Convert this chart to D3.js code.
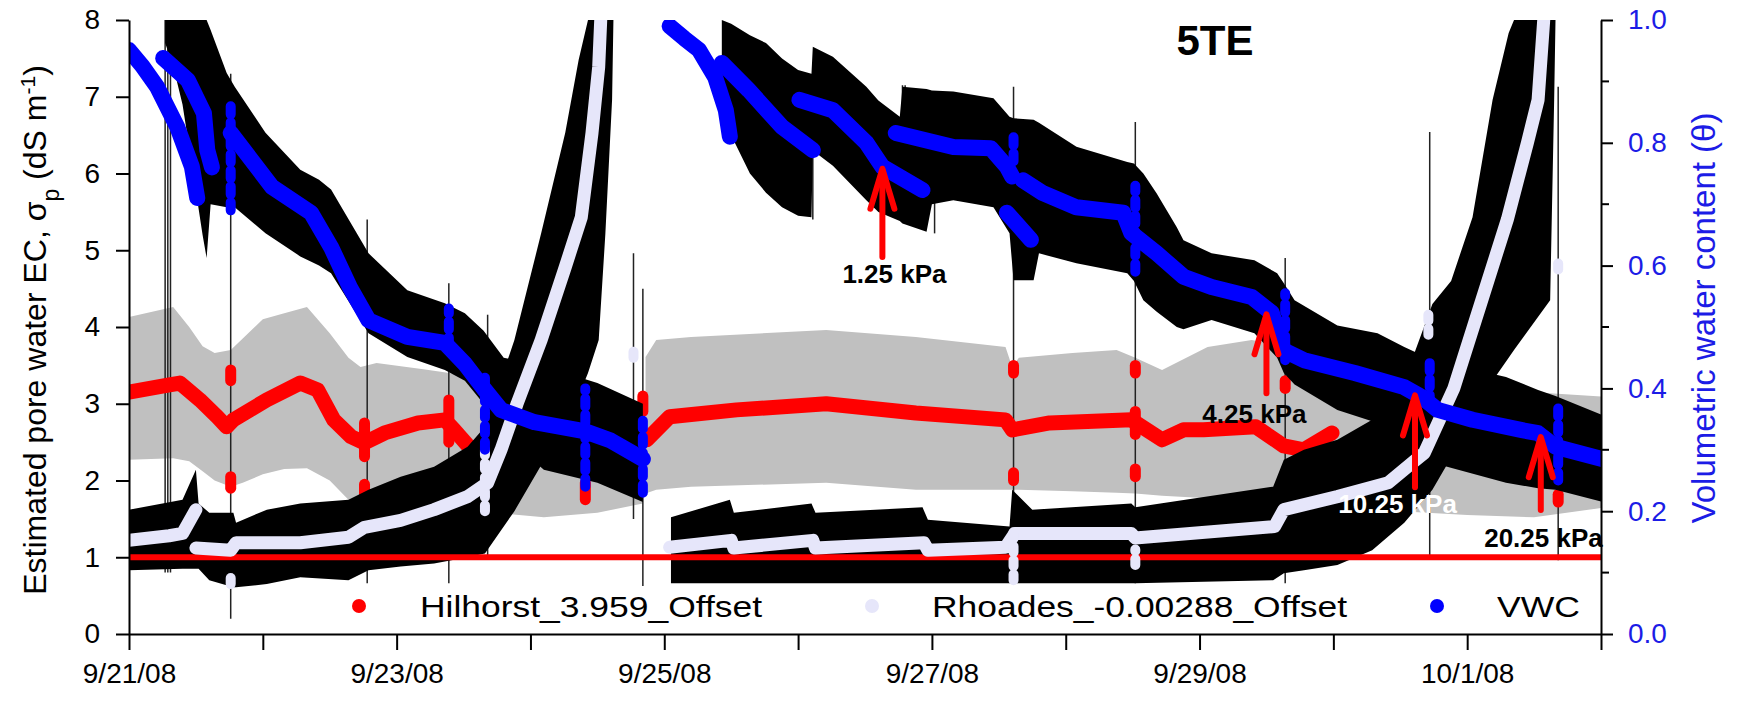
<!DOCTYPE html>
<html>
<head>
<meta charset="utf-8">
<script src="https://cdn.jsdelivr.net/npm/d3@7"></script>
<style>
  body { margin: 0; background: #fff; }
  text { font-family: "Liberation Sans", Arial, sans-serif; }
</style>
</head>
<body>
<div id="chart"></div>
<script>
// ---- data (day offset from 9/21/08 00:00) ----

// gray envelope around Hilhorst: [day, low, high] (dS/m)
const graySeg1 = [[0,2.27,4.13],[0.33,2.29,4.26],[0.45,2.25,4.0],[0.55,2.12,3.75],[0.64,2.0,3.66],[0.76,1.92,3.7],
  [0.85,1.97,3.85],[1.0,2.08,4.1],[1.16,2.15,4.18],[1.33,2.16,4.26],[1.5,2.0,3.92],[1.64,1.75,3.6],[1.73,1.72,3.48],
  [1.85,1.7,3.53],[2.2,1.65,3.45],[2.6,1.6,3.35],[3.1,1.52,3.0],[3.5,1.58,2.6],[3.84,1.7,2.4]];
const graySeg2 = [[3.86,1.83,3.61],[3.94,1.88,3.83],[4.2,1.92,3.87],[5.21,1.97,3.96],[5.88,1.88,3.87],[6.55,1.88,3.74],
  [6.6,1.88,3.48],[6.65,1.88,3.6],[7.05,1.86,3.66],[7.38,1.84,3.7],[7.52,1.83,3.6],[7.72,1.8,3.44],[8.06,1.77,3.74],
  [8.39,1.75,3.83],[8.8,1.7,3.7],[9.5,1.6,3.5],[10.0,1.55,3.3],[10.5,1.52,3.15],[11.04,1.65,3.09]];

// black envelope following VWC: [day, low, high]
const upperBand1 = [[0.27,7.7,8],[0.33,7.4,8],[0.4,6.9,8],[0.48,6.0,8],[0.55,5.2,8],[0.58,4.9,8],[0.61,5.6,7.87],[0.73,5.56,7.31],
  [0.79,5.56,7.13],[1.02,5.22,6.53],[1.28,4.92,6.05],[1.42,4.8,5.92],[1.51,4.7,5.79],[1.79,3.92,4.96],[2.08,3.61,4.48],
  [2.36,3.44,4.31],[2.51,3.3,4.18],[2.65,3.0,3.95],[2.8,2.6,3.6],[3.1,2.14,3.49],[3.5,1.97,3.27],[3.84,1.72,3.0]];
const upperBand2 = [[4.43,6.9,8],[4.5,6.5,7.95],[4.64,6.0,7.8],[4.76,5.75,7.7],[4.88,5.56,7.5],[5.0,5.45,7.35],[5.1,5.43,7.3],
  [5.11,6.3,7.65],[5.26,6.1,7.52],[5.51,5.65,7.13],[5.6,5.5,6.95],[5.76,5.38,6.74],[5.78,5.35,7.13],[5.96,5.24,7.1],
  [6.0,5.6,7.08],[6.16,5.65,7.07],[6.46,5.56,6.98],[6.58,5.22,6.74],[6.61,4.61,6.72],[6.76,4.61,6.7],[6.8,4.96,6.66],
  [7.08,4.83,6.35],[7.46,4.7,6.15],[7.51,4.6,6.13],[7.58,4.35,6.0],[7.68,4.2,5.74],[7.83,4.0,5.3],[7.88,3.97,5.13],
  [8.09,4.09,4.96],[8.41,3.92,4.87],[8.58,3.6,4.7],[8.63,3.4,4.57],[8.71,3.25,4.35],[9.03,2.92,4.02],[9.33,2.75,3.92],
  [9.53,2.57,3.74],[9.74,2.23,3.57],[10.29,1.97,3.35],[10.53,1.9,3.18],[10.66,1.88,3.1],[11.04,1.71,2.83]];

// black envelope following Rhoades: [day, low, high]
const lowerBand1 = [[0,0.83,1.62],[0.4,0.85,1.75],[0.5,0.85,2.14],[0.52,0.85,1.7],[0.6,0.7,1.58],[0.78,0.61,1.58],
  [0.8,0.61,1.45],[1.03,0.65,1.62],[1.28,0.74,1.7],[1.64,0.7,1.75],[1.79,0.83,1.88],[2.03,0.88,2.05],[2.28,0.92,2.18],
  [2.53,1.0,2.44],[2.66,1.05,2.7],[2.88,1.6,3.83],[3.08,2.2,5.22],[3.26,2.7,6.53],[3.36,3.1,7.48],[3.43,3.4,8],
  [3.51,3.83,8],[3.56,5.22,8],[3.61,6.96,8],[3.62,8,8]];
const lowerBand2 = [[4.05,0.66,1.52],[4.49,0.66,1.75],[4.52,0.66,1.58],[5.1,0.66,1.7],[5.13,0.66,1.58],[5.93,0.66,1.65],
  [5.97,0.66,1.49],[6.58,0.66,1.4],[6.6,0.66,1.88],[6.75,0.66,1.62],[7.49,0.66,1.7],[7.52,0.66,1.65],[8.55,0.7,1.92],
  [8.63,0.79,2.27],[8.78,0.83,2.4],[9.03,0.9,2.53],[9.29,1.09,2.79],[9.53,1.45,3.3],[9.74,1.88,4.3],[9.88,2.3,4.6],
  [10.04,2.8,5.43],[10.19,3.3,6.96],[10.31,3.6,7.83],[10.35,3.7,8],[10.62,4.35,8],[10.65,6.96,8],[10.66,8,8]];

// Hilhorst_3.959_Offset (dS/m)
const hilhorst1 = [[0,3.15],[0.28,3.24],[0.38,3.27],[0.53,3.05],[0.66,2.83],[0.73,2.7],[0.78,2.79],[1.03,3.05],
  [1.28,3.27],[1.41,3.18],[1.53,2.79],[1.66,2.57],[1.76,2.49],[1.91,2.62],[2.16,2.75],[2.36,2.79],[2.43,2.66],[2.56,2.4]];
const hilhorst2 = [[3.87,2.53],[4.04,2.83],[4.54,2.92],[5.21,3.0],[5.88,2.88],[6.55,2.79],[6.6,2.66],[6.88,2.75],
  [7.49,2.79],[7.72,2.53],[7.88,2.66],[8.03,2.66],[8.42,2.7],[8.63,2.45],[8.78,2.4],[8.99,2.62]];
const hilhorst3 = [[10.97,2.68],[11.04,2.66]];

// Rhoades_-0.00288_Offset (dS/m)
const rhoades1a = [[0,1.22],[0.3,1.28],[0.4,1.31],[0.5,1.62]];
const rhoades1b = [[0.5,1.12],[0.76,1.09],[0.8,1.19],[1.28,1.19],[1.64,1.26],[1.76,1.39],[2.03,1.48],[2.28,1.62],
  [2.53,1.79],[2.68,1.97],[2.78,2.4],[2.9,3.0],[3.08,3.83],[3.26,4.78],[3.38,5.43],[3.46,6.53],[3.51,7.39],[3.53,8.2]];
const rhoades2 = [[4.04,1.13],[4.5,1.22],[4.52,1.12],[5.11,1.22],[5.13,1.12],[5.94,1.19],[5.97,1.09],[6.55,1.13],
  [6.62,1.31],[7.49,1.31],[7.52,1.25],[8.56,1.4],[8.63,1.62],[9.03,1.79],[9.41,1.97],[9.59,2.23],[9.68,2.36],
  [9.9,3.2],[10.1,4.3],[10.3,5.4],[10.45,6.4],[10.53,6.96],[10.58,8.2]];

// VWC (theta, right axis)
const vwcSegs = [
  [[0,0.951],[0.1,0.925],[0.21,0.891],[0.36,0.826],[0.47,0.761],[0.51,0.71]],
  [[0.255,0.938],[0.44,0.902],[0.56,0.848],[0.585,0.788],[0.62,0.76]],
  [[0.76,0.816],[1.07,0.728],[1.36,0.686],[1.51,0.63],[1.65,0.565],[1.79,0.511],[2.08,0.484],[2.36,0.474],
   [2.51,0.44],[2.65,0.4],[2.78,0.365],[3.03,0.345],[3.41,0.33],[3.6,0.315],[3.84,0.285]],
  [[4.04,0.99],[4.15,0.97],[4.26,0.951],[4.38,0.907],[4.46,0.853],[4.49,0.81]],
  [[4.43,0.93],[4.63,0.886],[4.88,0.826],[5.11,0.788]],
  [[5.01,0.87],[5.26,0.853],[5.51,0.8],[5.63,0.761],[5.93,0.723]],
  [[5.73,0.816],[6.16,0.793],[6.44,0.791],[6.56,0.761],[6.6,0.745]],
  [[6.56,0.686],[6.74,0.642]],
  [[6.68,0.739],[6.83,0.718],[7.08,0.695],[7.43,0.686],[7.49,0.653],[7.68,0.62],[7.88,0.582],[8.09,0.565],
   [8.39,0.549],[8.54,0.523],[8.63,0.462],[8.78,0.446],[9.16,0.425],[9.53,0.402],[9.66,0.386],[9.78,0.365],
   [10.04,0.349],[10.41,0.332],[10.53,0.327],[10.66,0.305],[11.04,0.283]]
];

// dotted stacks at logging gaps: [day, low, high]
const redStacks = [[0.76,3.3,3.44],[0.76,1.9,2.05],[1.76,2.31,2.75],[1.76,1.8,1.95],[2.39,2.5,3.05],[3.41,1.75,1.97],
  [3.84,2.9,3.1],[6.61,3.4,3.5],[6.61,2.0,2.1],[7.52,3.4,3.5],[7.52,2.6,2.9],[7.52,2.05,2.15],[8.64,3.2,3.3],[10.68,1.72,1.82]];
const lavStacks = [[0.76,0.65,0.78],[2.66,1.6,2.4],[3.77,3.6,3.75],[6.61,0.7,1.36],[7.52,0.9,1.1],[9.71,3.9,4.2],[10.68,4.75,4.9]];
const blueStacks = [[0.76,0.69,0.86],[2.39,0.47,0.53],[2.66,0.3,0.43],[3.41,0.24,0.4],[3.84,0.23,0.35],
  [6.61,0.77,0.82],[7.52,0.59,0.73],[8.64,0.446,0.555],[9.72,0.376,0.446],[10.68,0.25,0.37]];

// thin vertical spikes: [day, low, high] (dS/m)
const spikes = [[0.27,0.8,8],[0.29,0.8,8],[0.31,0.8,8],[0.76,0.2,7.3],[1.78,0.66,5.4],[2.39,0.66,4.57],[2.68,0.97,4.16],
  [3.77,1.5,4.96],[3.84,0.25,4.5],[5.11,5.4,6.3],[5.78,6.6,7.15],[5.8,6.6,7.15],[6.02,5.22,5.83],[6.61,0.66,7.13],
  [7.52,0.66,6.67],[8.64,0.66,4.9],[9.72,1.0,6.54],[10.68,0.96,7.13]];

// suction annotations (theta units)
const arrowDays = [5.63, 8.5, 9.61, 10.55];
const arrowTip = [0.761, 0.524, 0.392, 0.324];
const arrowTail = [0.614, 0.392, 0.239, 0.202];
const arrowLabels = ["1.25 kPa", "4.25 kPa", "10.25 kPa", "20.25 kPa"];
const labelDays = [5.72, 8.41, 9.48, 10.57];
const labelTheta = [0.572, 0.344, 0.197, 0.142];
const labelColors = ["#000", "#000", "#fff", "#000"];

const ecTicks = [0, 1, 2, 3, 4, 5, 6, 7, 8];
const vwcTicks = [0, 0.2, 0.4, 0.6, 0.8, 1.0];
const refLineEC = 1.0;

const legendNames = ["Hilhorst_3.959_Offset", "Rhoades_-0.00288_Offset", "VWC"];
const legendColors = ["#ff0000", "#e6e6fa", "#0000ff"];

// ---- setup ----
const width = 1742, height = 702;
const L = 129, R = 1601, T = 20, B = 634;

const start = new Date(2008, 8, 21);
const day = d => new Date(start.getTime() + d * 864e5);

const x = d3.scaleTime().domain([start, new Date(2008, 9, 2)]).range([L, R]);
const yEC = d3.scaleLinear().domain([0, 8]).range([B, T]);
const yVWC = d3.scaleLinear().domain([0, 1]).range([B, T]);

const svg = d3.select("#chart").append("svg")
    .attr("width", width)
    .attr("height", height);

svg.append("defs").append("clipPath").attr("id", "plot")
  .append("rect").attr("x", L).attr("y", T).attr("width", R - L).attr("height", B - T);

const g = svg.append("g").attr("clip-path", "url(#plot)");

const band = d3.area()
    .x(p => x(day(p[0])))
    .y0(p => yEC(p[1]))
    .y1(p => yEC(p[2]));
const ecLine = d3.line().x(p => x(day(p[0]))).y(p => yEC(p[1]));
const vwcLine = d3.line().x(p => x(day(p[0]))).y(p => yVWC(p[1]));

// gray envelope
[graySeg1, graySeg2].forEach(s => {
  g.append("path").attr("d", band(s)).attr("fill", "#c0c0c0");
});

// thin spikes
g.selectAll(".spike").data(spikes).enter().append("line")
    .attr("x1", d => x(day(d[0]))).attr("x2", d => x(day(d[0])))
    .attr("y1", d => yEC(d[1])).attr("y2", d => yEC(d[2]))
    .attr("stroke", "#222").attr("stroke-width", 1.5);

// Hilhorst (red)
[hilhorst1, hilhorst2, hilhorst3].forEach(s => {
  g.append("path").attr("d", ecLine(s))
    .attr("fill", "none").attr("stroke", "#ff0000").attr("stroke-width", 15)
    .attr("stroke-linecap", "round").attr("stroke-linejoin", "round");
});
g.selectAll(".rstack").data(redStacks).enter().append("line")
    .attr("x1", d => x(day(d[0]))).attr("x2", d => x(day(d[0])))
    .attr("y1", d => yEC(d[1])).attr("y2", d => yEC(d[2]))
    .attr("stroke", "#ff0000").attr("stroke-width", 11).attr("stroke-linecap", "round");

// black envelopes
[upperBand1, upperBand2, lowerBand1, lowerBand2].forEach(s => {
  g.append("path").attr("d", band(s)).attr("fill", "#000");
});

// reference line at 1 dS/m
g.append("line")
    .attr("x1", L).attr("x2", R)
    .attr("y1", yEC(refLineEC)).attr("y2", yEC(refLineEC))
    .attr("stroke", "#ff0000").attr("stroke-width", 6);

// Rhoades (lavender)
[rhoades1a, rhoades1b, rhoades2].forEach(s => {
  g.append("path").attr("d", ecLine(s))
    .attr("fill", "none").attr("stroke", "#e6e6fa").attr("stroke-width", 13)
    .attr("stroke-linecap", "round").attr("stroke-linejoin", "round");
});
g.selectAll(".lstack").data(lavStacks).enter().append("line")
    .attr("x1", d => x(day(d[0]))).attr("x2", d => x(day(d[0])))
    .attr("y1", d => yEC(d[1])).attr("y2", d => yEC(d[2]))
    .attr("stroke", "#e6e6fa").attr("stroke-width", 10).attr("stroke-linecap", "round")
    .attr("stroke-dasharray", "6 8");

// VWC (blue)
vwcSegs.forEach(s => {
  g.append("path").attr("d", vwcLine(s))
    .attr("fill", "none").attr("stroke", "#0000ff").attr("stroke-width", 16)
    .attr("stroke-linecap", "round").attr("stroke-linejoin", "round");
});
g.selectAll(".bstack").data(blueStacks).enter().append("line")
    .attr("x1", d => x(day(d[0]))).attr("x2", d => x(day(d[0])))
    .attr("y1", d => yVWC(d[1])).attr("y2", d => yVWC(d[2]))
    .attr("stroke", "#0000ff").attr("stroke-width", 10).attr("stroke-linecap", "round")
    .attr("stroke-dasharray", "8 8");

// arrows
arrowDays.forEach((d, i) => {
  const ax = x(day(d)), tip = yVWC(arrowTip[i]), tail = yVWC(arrowTail[i]);
  const a = svg.append("g").attr("stroke", "#ff0000").attr("fill", "none")
      .attr("stroke-linecap", "round").attr("stroke-linejoin", "round");
  a.append("line").attr("x1", ax).attr("x2", ax).attr("y1", tip + 4).attr("y2", tail)
      .attr("stroke-width", 6);
  a.append("path").attr("d", `M${ax - 12},${tip + 42} L${ax},${tip + 2} L${ax + 12},${tip + 42}`)
      .attr("stroke-width", 6);
  svg.append("text")
      .attr("x", x(day(labelDays[i]))).attr("y", yVWC(labelTheta[i]))
      .attr("text-anchor", "middle")
      .attr("font-size", 26).attr("font-weight", "bold")
      .attr("fill", labelColors[i])
      .text(arrowLabels[i]);
});

// legend
const legY = 606;
svg.append("rect").attr("x", 290).attr("y", 586).attr("width", R - 291).attr("height", 44).attr("fill", "#fff");
const legDotX = [359, 872, 1437];
const legTextX = [420, 932, 1497];
const legTextW = [342, 415, 83];
legendNames.forEach((n, i) => {
  svg.append("circle").attr("cx", legDotX[i]).attr("cy", legY).attr("r", 7).attr("fill", legendColors[i]);
  svg.append("text").attr("x", legTextX[i]).attr("y", 617)
      .attr("font-size", 30)
      .attr("textLength", legTextW[i]).attr("lengthAdjust", "spacingAndGlyphs")
      .text(n);
});

// axes
const fmt = d3.timeFormat("%-m/%-d/%y");
const xAxis = d3.axisBottom(x)
    .ticks(d3.timeDay.every(1))
    .tickSize(16).tickSizeOuter(0).tickPadding(13)
    .tickFormat((d, i) => i % 2 === 0 ? fmt(d) : "");
svg.append("g").attr("transform", `translate(0,${B})`).call(xAxis)
    .call(a => a.selectAll("text").attr("font-size", 28).attr("font-family", "Liberation Sans, Arial, sans-serif"))
    .call(a => a.selectAll("line,path").attr("stroke-width", 2));

const yAxisL = d3.axisLeft(yEC).tickValues(ecTicks).tickFormat(d3.format("d"))
    .tickSize(13).tickSizeOuter(0).tickPadding(16);
svg.append("g").attr("transform", `translate(${L},0)`).call(yAxisL)
    .call(a => a.selectAll("text").attr("font-size", 28).attr("font-family", "Liberation Sans, Arial, sans-serif"))
    .call(a => a.selectAll("line,path").attr("stroke-width", 2));

const axisBlue = "#1c1ce6";
const yAxisR = d3.axisRight(yVWC).tickValues(vwcTicks).tickFormat(d3.format(".1f"))
    .tickSize(12).tickSizeOuter(0).tickPadding(15);
svg.append("g").attr("transform", `translate(${R},0)`).call(yAxisR)
    .call(a => a.selectAll("text").attr("font-size", 28).attr("fill", axisBlue).attr("font-family", "Liberation Sans, Arial, sans-serif"))
    .call(a => a.selectAll("line,path").attr("stroke-width", 2));
// minor ticks on right axis
svg.append("g").selectAll("line").data(d3.range(0.1, 1, 0.2)).enter().append("line")
    .attr("x1", R).attr("x2", R + 8)
    .attr("y1", d => yVWC(d)).attr("y2", d => yVWC(d))
    .attr("stroke", "#000").attr("stroke-width", 2);

// axis titles
const lt = svg.append("text")
    .attr("transform", `translate(46,330) rotate(-90)`)
    .attr("text-anchor", "middle").attr("font-size", 32);
lt.append("tspan").text("Estimated pore water EC, σ");
lt.append("tspan").attr("baseline-shift", "sub").attr("font-size", 23).text("p");
lt.append("tspan").text(" (dS m");
lt.append("tspan").attr("baseline-shift", "super").attr("font-size", 21).text("-1");
lt.append("tspan").text(")");

svg.append("text")
    .attr("transform", `translate(1715,318) rotate(-90)`)
    .attr("text-anchor", "middle").attr("font-size", 33).attr("fill", axisBlue)
    .text("Volumetric water content (θ)");

// title
svg.append("text").attr("x", 1215).attr("y", 55)
    .attr("text-anchor", "middle").attr("font-size", 42).attr("font-weight", "bold")
    .text("5TE");
</script>
</body>
</html>
